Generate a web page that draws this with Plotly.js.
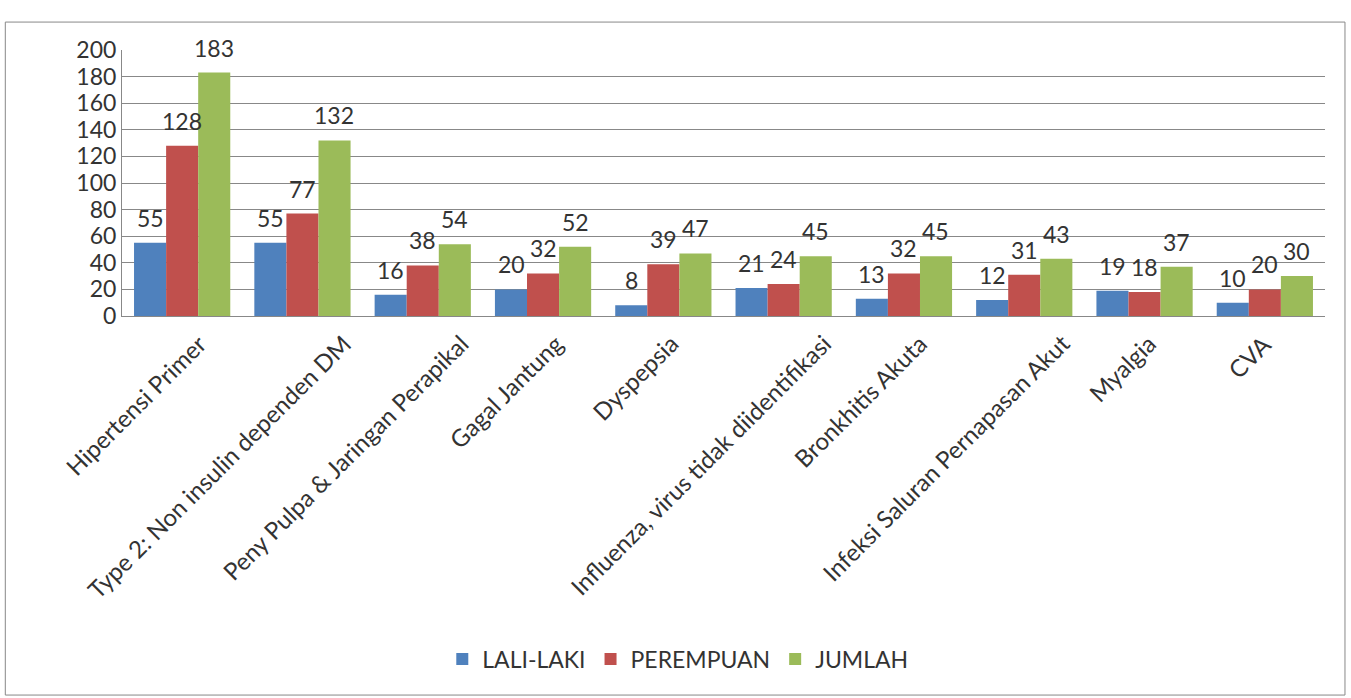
<!DOCTYPE html>
<html><head><meta charset="utf-8">
<script src="https://cdn.plot.ly/plotly-3.0.1.min.js"></script>
<style>html,body{margin:0;padding:0;background:#fff;}#chart{width:1351px;height:698px;}</style>
</head><body><div id="chart"></div>
<script>
const categories = ["Hipertensi Primer","Type 2: Non insulin dependen DM","Peny Pulpa & Jaringan Perapikal","Gagal Jantung","Dyspepsia","Influenza, virus tidak diidentifikasi","Bronkhitis Akuta","Infeksi Saluran Pernapasan Akut","Myalgia","CVA"];
const laki = [55,55,16,20,8,21,13,12,19,10];
const perempuan = [128,77,38,32,39,24,32,31,18,20];
const jumlah = [183,132,54,52,47,45,45,43,37,30];
const seriesNames = ["LALI-LAKI","PEREMPUAN","JUMLAH"];
const colors = ["#4F81BD","#C0504D","#9BBB59"];
const font = 'Lato, "Open Sans", sans-serif';
const catFontSize = 24;
const all = [laki, perempuan, jumlah];
const traces = all.map((v,i)=>({type:"bar",name:seriesNames[i],x:categories,y:v,marker:{color:colors[i]},hoverinfo:"none"}));
const annotations = [];
all.forEach((v,i)=>{v.forEach((val,j)=>{annotations.push({x:categories[j],y:val,xref:"x",yref:"y",text:String(val),showarrow:false,yanchor:"bottom",xshift:(i-1)*32,yshift:9,font:{family:font,size:23,color:"#333"}});});});
// category labels, rotated like the spreadsheet's axis labels
const ctx = document.createElement("canvas").getContext("2d");
ctx.font = catFontSize + "px Lato";
categories.forEach(c=>{
  const L = ctx.measureText(c).width;
  annotations.push({x:c,y:0,xref:"x",yref:"y",text:c,showarrow:false,textangle:-45,xanchor:"right",yanchor:"top",xshift:0.135*L+8,yshift:-10,font:{family:font,size:catFontSize,color:"#333"}});
});
const layout = {
  width:1351,height:698,paper_bgcolor:"#fff",plot_bgcolor:"#fff",
  margin:{l:122,r:26,t:50,b:382},
  barmode:"group",bargap:0.2,bargroupgap:0,
  font:{family:font,color:"#333"},
  xaxis:{type:"category",range:[-0.5,categories.length-0.5],autorange:false,showticklabels:false,showline:true,linecolor:"#888",linewidth:1,ticks:"",automargin:false},
  yaxis:{range:[0,200],autorange:false,dtick:20,tickfont:{family:font,size:23,color:"#333"},showgrid:true,gridcolor:"#888",gridwidth:1,showline:true,linecolor:"#888",zeroline:false,ticks:"",automargin:false},
  legend:{orientation:"h",x:0.462,xanchor:"center",y:-1.29,yanchor:"middle",font:{family:font,size:23,color:"#333"},traceorder:"normal"},
  annotations:annotations,
  shapes:[{type:"rect",xref:"paper",yref:"paper",x0:-0.097,x1:1.0166,y0:-1.425,y1:1.105,line:{color:"#888",width:1}}],
  showlegend:true
};
Plotly.newPlot("chart",traces,layout,{staticPlot:true});
</script></body></html>
